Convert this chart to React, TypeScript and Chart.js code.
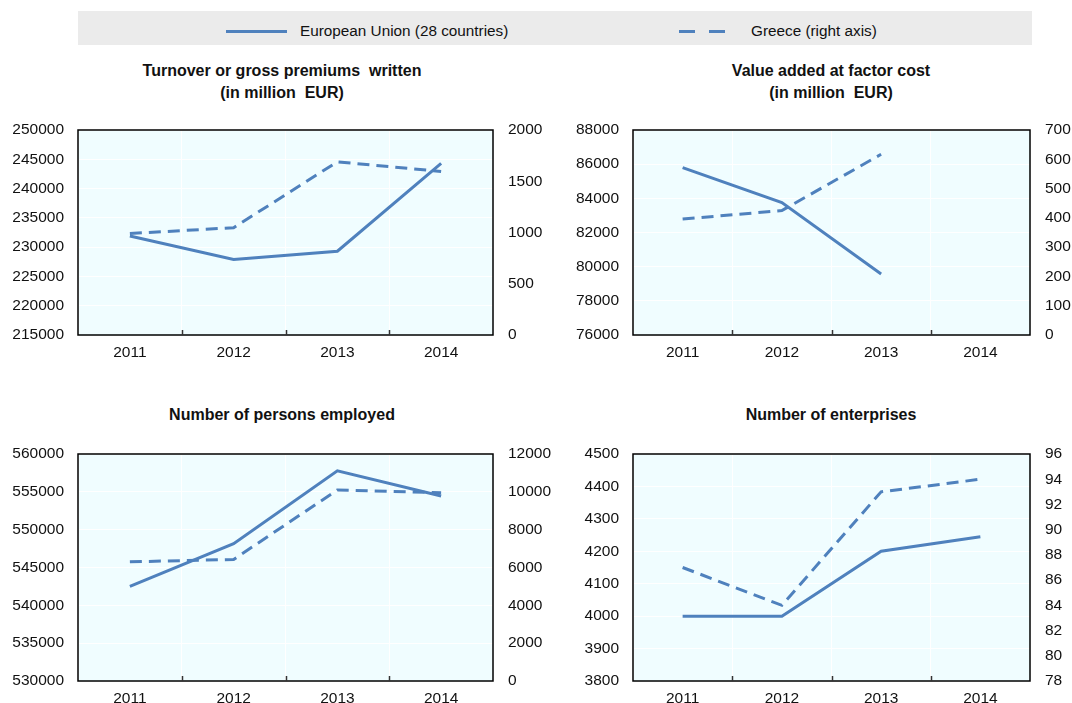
import React, { useEffect, useRef } from "react";
import { Chart, registerables } from "chart.js";

Chart.register(...registerables);

// ---- Data ----
const CATEGORIES = ["2011", "2012", "2013", "2014"];

const TURNOVER_EU = [231900, 227900, 229300, 244300];
const TURNOVER_GR = [990, 1047, 1690, 1595];

const VALUE_ADDED_EU = [85800, 83750, 79570, null];
const VALUE_ADDED_GR = [396, 425, 617, null];

const EMPLOYED_EU = [542500, 548150, 557780, 554460];
const EMPLOYED_GR = [6300, 6425, 10100, 9950];

const ENTERPRISES_EU = [4000, 4000, 4200, 4245];
const ENTERPRISES_GR = [87, 84, 93, 94];

// axis ranges: [min, max, step]
const TURNOVER_LEFT_AXIS = [215000, 250000, 5000];
const TURNOVER_RIGHT_AXIS = [0, 2000, 500];
const VALUE_ADDED_LEFT_AXIS = [76000, 88000, 2000];
const VALUE_ADDED_RIGHT_AXIS = [0, 700, 100];
const EMPLOYED_LEFT_AXIS = [530000, 560000, 5000];
const EMPLOYED_RIGHT_AXIS = [0, 12000, 2000];
const ENTERPRISES_LEFT_AXIS = [3800, 4500, 100];
const ENTERPRISES_RIGHT_AXIS = [78, 96, 2];

const SERIES_LABELS = ["European Union (28 countries)", "Greece (right axis)"];
const TITLES = [
  ["Turnover or gross premiums  written", "(in million  EUR)"],
  ["Value added at factor cost", "(in million  EUR)"],
  ["Number of persons employed"],
  ["Number of enterprises"],
];

const LINE_COLOR = "#4F81BD";
const PLOT_BG = "#F0FDFF";
const FONT = "'Liberation Sans', Arial, sans-serif";
const TICK_SIZE = 15.5;

const framePlugin = {
  id: "frameAndTicks",
  beforeDraw(chart: any) {
    const { ctx, chartArea } = chart;
    const { left, top, right, bottom } = chartArea;
    ctx.save();
    ctx.fillStyle = PLOT_BG;
    ctx.fillRect(left, top, right - left, bottom - top);
    ctx.restore();
  },
  afterDatasetsDraw(chart: any) {
    const { ctx, chartArea } = chart;
    const { left, top, right, bottom } = chartArea;
    const n = chart.data.labels.length;
    ctx.save();
    ctx.strokeStyle = "#000";
    ctx.lineWidth = 1.5;
    ctx.strokeRect(left, top, right - left, bottom - top);
    ctx.strokeStyle = "#333";
    const xs = chart.scales.x;
    for (let i = 1; i < n; i++) {
      const x = Math.round((xs.getPixelForValue(i - 1) + xs.getPixelForValue(i)) / 2) + 0.5;
      ctx.beginPath();
      ctx.moveTo(x, bottom);
      ctx.lineTo(x, bottom - 5);
      ctx.stroke();
    }
    ctx.restore();
  },
};

type PanelProps = {
  eu: (number | null)[];
  gr: (number | null)[];
  leftAxis: number[];
  rightAxis: number[];
  canvasLeft: number;
  canvasTop: number;
  canvasWidth: number;
  canvasHeight: number;
  plotLeft: number;
  plotRight: number;
  plotTop: number;
  plotBottom: number;
};

function Panel(p: PanelProps) {
  const ref = useRef<HTMLCanvasElement | null>(null);
  useEffect(() => {
    if (!ref.current) return;
    const leftW = p.plotLeft - p.canvasLeft;
    const rightW = p.canvasLeft + p.canvasWidth - p.plotRight;
    const padTop = p.plotTop - p.canvasTop;
    const xH = p.canvasTop + p.canvasHeight - p.plotBottom;
    const fitY = (w: number) => (s: any) => {
      s.width = w;
      s.paddingTop = 0;
      s.paddingBottom = 0;
    };
    const chart = new Chart(ref.current, {
      type: "line",
      data: {
        labels: CATEGORIES,
        datasets: [
          {
            label: SERIES_LABELS[0],
            data: p.eu,
            yAxisID: "y",
            borderColor: LINE_COLOR,
            backgroundColor: LINE_COLOR,
            borderWidth: 3,
            pointRadius: 0,
            tension: 0,
            spanGaps: false,
          },
          {
            label: SERIES_LABELS[1],
            data: p.gr,
            yAxisID: "y1",
            borderColor: LINE_COLOR,
            backgroundColor: LINE_COLOR,
            borderWidth: 3,
            borderDash: [12, 7],
            pointRadius: 0,
            tension: 0,
            spanGaps: false,
          },
        ],
      },
      options: {
        responsive: false,
        animation: false,
        layout: { padding: { top: padTop, left: 0, right: 0, bottom: 0 } },
        plugins: {
          legend: { display: false },
          title: { display: false },
          tooltip: { enabled: false },
        },
        scales: {
          x: {
            offset: true,
            grid: { offset: true, color: "#FFFFFF", lineWidth: 1, drawTicks: false },
            border: { display: false },
            ticks: { color: "#111", padding: 8, font: { family: FONT, size: TICK_SIZE } },
            afterFit: (s: any) => {
              s.height = xH;
              s.paddingLeft = 0;
              s.paddingRight = 0;
            },
          },
          y: {
            position: "left",
            min: p.leftAxis[0],
            max: p.leftAxis[1],
            grid: { color: "#FFFFFF", lineWidth: 1, drawTicks: false },
            border: { display: false },
            ticks: {
              stepSize: p.leftAxis[2],
              padding: 14,
              color: "#111",
              font: { family: FONT, size: TICK_SIZE },
              callback: (v: any) => String(v),
            },
            afterFit: fitY(leftW),
          },
          y1: {
            position: "right",
            min: p.rightAxis[0],
            max: p.rightAxis[1],
            grid: { display: false, drawTicks: false },
            border: { display: false },
            ticks: {
              stepSize: p.rightAxis[2],
              padding: 15,
              color: "#111",
              font: { family: FONT, size: TICK_SIZE },
              callback: (v: any) => String(v),
            },
            afterFit: fitY(rightW),
          },
        },
      },
      plugins: [framePlugin],
    });
    return () => chart.destroy();
  }, []);
  return (
    <canvas
      ref={ref}
      width={p.canvasWidth}
      height={p.canvasHeight}
      style={{
        position: "absolute",
        left: p.canvasLeft,
        top: p.canvasTop,
        width: p.canvasWidth,
        height: p.canvasHeight,
      }}
    />
  );
}

function Title({ lines, cx, top }: { lines: string[]; cx: number; top: number }) {
  return (
    <div
      style={{
        position: "absolute",
        left: cx - 220,
        width: 440,
        top,
        textAlign: "center",
        fontFamily: FONT,
        fontWeight: "bold",
        fontSize: 16,
        lineHeight: "22px",
        color: "#111",
        whiteSpace: "pre",
      }}
    >
      {lines.map((l, i) => (
        <div key={i}>{l}</div>
      ))}
    </div>
  );
}

export default function App() {
  return (
    <div
      style={{
        position: "absolute",
        left: 0,
        top: 0,
        width: 1072,
        height: 703,
        background: "#fff",
        overflow: "hidden",
        fontFamily: FONT,
      }}
    >
      {/* Legend */}
      <div
        style={{
          position: "absolute",
          left: 78,
          top: 11,
          width: 954,
          height: 34,
          background: "#EBEBEB",
        }}
      />
      <div style={{ position: "absolute", left: 226, top: 30, width: 61, height: 3, background: LINE_COLOR }} />
      <div
        style={{
          position: "absolute",
          left: 300,
          top: 21,
          fontSize: 15.3,
          lineHeight: "20px",
          color: "#111",
          whiteSpace: "nowrap",
        }}
      >
        {SERIES_LABELS[0]}
      </div>
      <div style={{ position: "absolute", left: 679, top: 30, width: 16, height: 3, background: LINE_COLOR }} />
      <div style={{ position: "absolute", left: 709, top: 30, width: 16, height: 3, background: LINE_COLOR }} />
      <div
        style={{
          position: "absolute",
          left: 751,
          top: 21,
          fontSize: 15.3,
          lineHeight: "20px",
          color: "#111",
          whiteSpace: "nowrap",
        }}
      >
        {SERIES_LABELS[1]}
      </div>

      <Title lines={TITLES[0]} cx={282} top={60} />
      <Title lines={TITLES[1]} cx={831} top={60} />
      <Title lines={TITLES[2]} cx={282} top={404} />
      <Title lines={TITLES[3]} cx={831} top={404} />

      <Panel
        eu={TURNOVER_EU}
        gr={TURNOVER_GR}
        leftAxis={TURNOVER_LEFT_AXIS}
        rightAxis={TURNOVER_RIGHT_AXIS}
        canvasLeft={0}
        canvasTop={118}
        canvasWidth={558}
        canvasHeight={252}
        plotLeft={78}
        plotRight={493}
        plotTop={130}
        plotBottom={335}
      />
      <Panel
        eu={VALUE_ADDED_EU}
        gr={VALUE_ADDED_GR}
        leftAxis={VALUE_ADDED_LEFT_AXIS}
        rightAxis={VALUE_ADDED_RIGHT_AXIS}
        canvasLeft={558}
        canvasTop={118}
        canvasWidth={514}
        canvasHeight={252}
        plotLeft={633}
        plotRight={1030}
        plotTop={130}
        plotBottom={335}
      />
      <Panel
        eu={EMPLOYED_EU}
        gr={EMPLOYED_GR}
        leftAxis={EMPLOYED_LEFT_AXIS}
        rightAxis={EMPLOYED_RIGHT_AXIS}
        canvasLeft={0}
        canvasTop={442}
        canvasWidth={558}
        canvasHeight={261}
        plotLeft={78}
        plotRight={493}
        plotTop={454}
        plotBottom={681}
      />
      <Panel
        eu={ENTERPRISES_EU}
        gr={ENTERPRISES_GR}
        leftAxis={ENTERPRISES_LEFT_AXIS}
        rightAxis={ENTERPRISES_RIGHT_AXIS}
        canvasLeft={558}
        canvasTop={442}
        canvasWidth={514}
        canvasHeight={261}
        plotLeft={633}
        plotRight={1030}
        plotTop={454}
        plotBottom={681}
      />
    </div>
  );
}
